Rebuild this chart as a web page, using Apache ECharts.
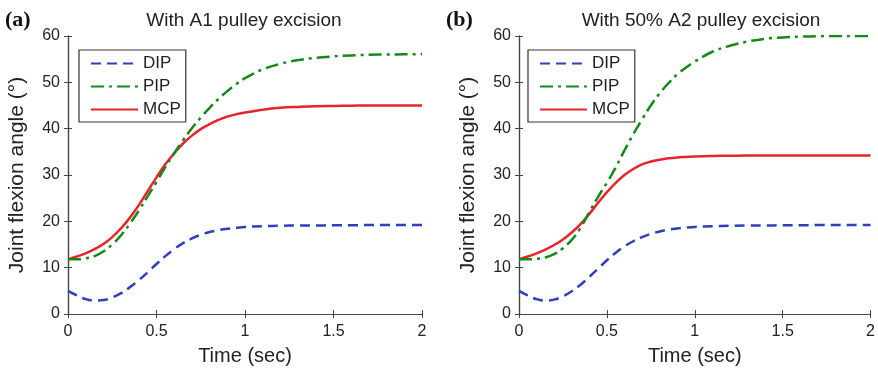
<!DOCTYPE html>
<html>
<head>
<meta charset="utf-8">
<script src="https://cdn.jsdelivr.net/npm/echarts@6/dist/echarts.min.js"></script>
<style>
  html, body { margin: 0; padding: 0; background: #fff; }
  #chart { width: 878px; height: 375px; }
</style>
</head>
<body>
<div id="chart"></div>
<script>
// time samples (sec), shared by all curves
const times = [0, 0.05, 0.1, 0.15, 0.2, 0.25, 0.3, 0.35, 0.4, 0.45, 0.5, 0.55, 0.6, 0.65, 0.7, 0.75,
  0.8, 0.85, 0.9, 0.95, 1.0, 1.1, 1.2, 1.3, 1.4, 1.5, 1.6, 1.7, 1.8, 1.9, 2.0];

// (a) With A1 pulley excision
const dipA = [5.0, 4.0, 3.2, 2.9, 3.0, 3.6, 4.5, 5.8, 7.3, 9.0, 10.8, 12.5, 14.0, 15.3, 16.3, 17.1,
  17.7, 18.1, 18.4, 18.6, 18.8, 18.95, 19.05, 19.1, 19.1, 19.15, 19.15, 19.2, 19.2, 19.2, 19.2];
const pipA = [11.8, 11.8, 12.0, 12.5, 13.5, 15.0, 17.0, 19.5, 22.3, 25.4, 28.5, 31.7, 34.7, 37.5, 40.1, 42.4,
  44.5, 46.4, 48.1, 49.6, 50.9, 52.8, 54.0, 54.8, 55.3, 55.6, 55.8, 55.95, 56.0, 56.05, 56.1];
const mcpA = [11.8, 12.4, 13.1, 14.0, 15.1, 16.6, 18.5, 20.8, 23.5, 26.5, 29.5, 32.3, 34.7, 36.8, 38.5, 39.9,
  41.0, 41.9, 42.6, 43.1, 43.5, 44.1, 44.5, 44.7, 44.85, 44.9, 44.95, 45.0, 45.0, 45.0, 45.0];

// (b) With 50% A2 pulley excision
const dipB = [5.0, 4.0, 3.2, 2.9, 3.1, 3.8, 4.9, 6.3, 8.0, 9.8, 11.6, 13.2, 14.6, 15.7, 16.6, 17.3,
  17.8, 18.2, 18.45, 18.65, 18.8, 18.95, 19.05, 19.1, 19.1, 19.15, 19.15, 19.2, 19.2, 19.2, 19.2];
const pipB = [11.8, 11.8, 11.9, 12.2, 12.9, 14.2, 16.0, 18.6, 22.0, 25.3, 28.3, 31.6, 35.3, 38.8, 42.0, 45.0,
  47.6, 49.8, 51.7, 53.2, 54.5, 56.6, 57.9, 58.8, 59.4, 59.7, 59.85, 59.95, 60.0, 60.0, 60.0];
const mcpB = [11.8, 12.4, 13.1, 13.9, 14.9, 16.1, 17.6, 19.4, 21.6, 24.0, 26.3, 28.3, 30.0, 31.3, 32.3, 32.9,
  33.3, 33.6, 33.8, 33.9, 34.0, 34.1, 34.15, 34.2, 34.2, 34.2, 34.2, 34.2, 34.2, 34.2, 34.2];

const panelTitles = ['With A1 pulley excision', 'With 50% A2 pulley excision'];
const panelTags = ['(a)', '(b)'];
const seriesNames = ['DIP', 'PIP', 'MCP'];

const colors = { DIP: '#2f3fc0', PIP: '#16881a', MCP: '#e8232b' };
const dashes = { DIP: [10, 6], PIP: [13, 5, 3, 5], MCP: 'solid' };
const axisColor = '#444';
const font = 'Liberation Sans, Arial, sans-serif';

const grids = [
  { left: 68, top: 36, width: 354, height: 278 },
  { left: 519, top: 36, width: 353, height: 278 }
];

function pairs(vals) {
  return times.map((t, i) => [t, vals[i]]);
}

const xAxes = [], yAxes = [];
grids.forEach((g, i) => {
  xAxes.push({
    type: 'value', gridIndex: i, min: 0, max: 2, interval: 0.5, position: 'bottom',
    name: 'Time (sec)', nameLocation: 'middle', nameGap: 32,
    nameTextStyle: { fontSize: 20, color: '#222', fontFamily: font },
    axisLine: { lineStyle: { color: axisColor, width: 1.2 } },
    axisTick: { inside: true, length: 4, lineStyle: { color: axisColor } },
    axisLabel: { fontSize: 16, color: '#222', fontFamily: font, margin: 10 },
    splitLine: { show: false }
  });
  xAxes.push({
    type: 'value', gridIndex: i, min: 0, max: 2, interval: 0.5, position: 'top',
    axisLine: { lineStyle: { color: axisColor, width: 1.2 } },
    axisTick: { inside: true, length: 4, lineStyle: { color: axisColor } },
    axisLabel: { show: false }, splitLine: { show: false }
  });
  yAxes.push({
    type: 'value', gridIndex: i, min: 0, max: 60, interval: 10, position: 'left',
    name: 'Joint flexion angle (°)', nameLocation: 'middle', nameGap: 40,
    nameTextStyle: { fontSize: 21, color: '#222', fontFamily: font },
    axisLine: { show: true, lineStyle: { color: axisColor, width: 1.2 } },
    axisTick: { show: true, inside: true, length: 4, lineStyle: { color: axisColor } },
    axisLabel: { fontSize: 16, color: '#222', fontFamily: font, margin: 8 },
    splitLine: { show: false }
  });
  yAxes.push({
    type: 'value', gridIndex: i, min: 0, max: 60, interval: 10, position: 'right',
    axisLine: { show: true, lineStyle: { color: axisColor, width: 1.2 } },
    axisTick: { show: true, inside: true, length: 4, lineStyle: { color: axisColor } },
    axisLabel: { show: false }, splitLine: { show: false }
  });
});

const panelData = [[dipA, pipA, mcpA], [dipB, pipB, mcpB]];
const series = [];
panelData.forEach((set, p) => {
  set.forEach((vals, k) => {
    const nm = seriesNames[k];
    series.push({
      name: nm, type: 'line', xAxisIndex: p * 2, yAxisIndex: p * 2,
      data: pairs(vals), smooth: 0.4, symbol: 'none', silent: true,
      lineStyle: { color: colors[nm], width: 2.5, type: dashes[nm] },
      itemStyle: { color: colors[nm] },
      z: 3 - k
    });
  });
});

const legendLefts = [79, 528];
const legends = legendLefts.map(l => ({
  left: l, top: 50, orient: 'vertical',
  data: seriesNames,
  itemWidth: 47, itemHeight: 14, itemGap: 6,
  padding: [5, 5, 4, 11],
  borderColor: '#333', borderWidth: 1.2, backgroundColor: '#fff',
  itemStyle: { opacity: 0 },
  textStyle: { fontSize: 17, color: '#222', fontFamily: font, padding: [0, 0, 0, 0] },
  selectedMode: false
}));

const titles = [];
panelTitles.forEach((t, i) => {
  titles.push({
    text: t, left: i === 0 ? 239 : 696, top: 6, textAlign: 'center',
    textStyle: { fontSize: 19, fontWeight: 'normal', color: '#222', fontFamily: font }
  });
});
panelTags.forEach((t, i) => {
  titles.push({
    text: t, left: i === 0 ? 0 : 441, top: 4,
    textStyle: { fontSize: 22, fontWeight: 'bold', color: '#111', fontFamily: 'Liberation Serif, Times New Roman, serif' }
  });
});

const chart = echarts.init(document.getElementById('chart'));
chart.setOption({
  backgroundColor: '#fff',
  animation: false,
  title: titles,
  legend: legends,
  grid: grids,
  xAxis: xAxes,
  yAxis: yAxes,
  series: series
});
</script>
</body>
</html>
